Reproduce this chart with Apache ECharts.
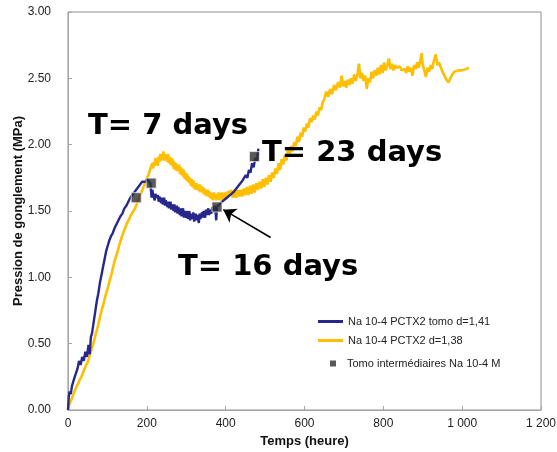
<!DOCTYPE html>
<html>
<head>
<meta charset="utf-8">
<script src="https://cdn.jsdelivr.net/npm/echarts@6/dist/echarts.min.js"></script>
<style>
  html, body { margin: 0; padding: 0; background: #fff; }
  #chart { width: 557px; height: 452px; }
</style>
</head>
<body>
<div id="chart"></div>
<script>
// Swelling pressure vs time, Na 10-4 PCTX2 samples
const yTicks = [0, 0.5, 1.0, 1.5, 2.0, 2.5, 3.0];
const xTicks = [0, 200, 400, 600, 800, 1000, 1200];

// Sample "tomo" d=1,41 (hours, MPa)
const tomoTime = [0,2,4,7,10,13,16,20,24,28,32,36,40,44,48,52,55,58,61,65,69,73,77,81,85,89,93,97,101,105,109,113,118,123,128,133,138,143,148,153,158,163,168,173,178,183,188,193,197,201,205,209,
  212,214,216,220,222,224,228,230,232,236,238,240,244,246,248,252,254,256,260,262,264,268,270,272,276,278,280,284,286,288,292,294,296,300,302,304,308,310,312,316,318,320,324,326,328,332,334,336,340,342,344,348,350,352,356,358,360,364,366,368,372,374,376,378,
  381,383,387,391,395,399,403,407,411,415,419,423,427,431,435,439,443,447,451,455,459,463,467,471,475,479,483];
const tomoPressure = [0.00,0.10,0.14,0.12,0.18,0.17,0.24,0.23,0.31,0.37,0.34,0.40,0.37,0.44,0.40,0.49,0.42,0.55,0.58,0.66,0.74,0.82,0.88,0.96,1.02,1.08,1.14,1.20,1.24,1.28,1.31,1.33,1.37,1.40,1.43,1.46,1.48,1.52,1.54,1.57,1.60,1.62,1.64,1.66,1.67,1.70,1.72,1.73,1.72,1.74,1.73,1.71,
  1.60,1.66,1.62,1.58,1.63,1.60,1.62,1.57,1.61,1.56,1.60,1.55,1.60,1.54,1.58,1.53,1.57,1.52,1.57,1.51,1.55,1.50,1.55,1.49,1.54,1.48,1.53,1.47,1.52,1.46,1.52,1.45,1.50,1.45,1.50,1.44,1.50,1.43,1.48,1.44,1.49,1.42,1.48,1.43,1.47,1.41,1.48,1.44,1.49,1.45,1.50,1.45,1.51,1.47,1.52,1.47,1.51,1.48,1.53,1.49,1.54,1.51,1.43,1.53,
  1.54,1.53,1.56,1.55,1.58,1.57,1.60,1.59,1.62,1.61,1.64,1.63,1.67,1.66,1.70,1.69,1.73,1.72,1.77,1.75,1.81,1.79,1.86,1.83,1.90,1.88,1.97];

// Sample d=1,38 (hours, MPa)
const refTime = [0,3,6,10,14,18,22,26,30,34,38,42,46,50,54,58,62,66,70,74,78,82,86,90,94,98,102,106,110,114,118,122,126,130,134,138,142,146,150,154,158,162,166,170,174,178,182,186,190,194,198,202,206,210,
  214,216,218,220,222,224,226,228,230,232,234,236,238,240,242,244,246,248,250,252,254,256,258,260,262,264,266,268,270,272,274,276,278,280,282,284,286,288,290,292,294,296,298,300,302,304,306,308,310,312,314,316,318,320,322,324,326,328,330,332,334,336,338,340,342,344,346,348,350,352,354,356,358,360,362,364,366,368,370,372,374,376,378,380,382,384,386,388,390,392,394,396,398,400,402,404,406,
  410,414,418,422,426,430,434,438,442,446,450,454,458,462,466,470,474,478,482,486,490,494,498,502,506,510,514,518,522,526,530,534,538,542,546,550,554,558,562,566,570,574,578,582,586,590,594,598,602,606,610,614,618,622,626,630,634,638,642,646,
  650,655,660,665,670,675,680,685,690,694,698,702,706,710,714,718,722,726,730,734,738,742,746,750,754,758,762,766,770,774,778,782,786,790,794,798,802,806,810,814,818,822,826,830,834,838,842,846,850,854,858,862,866,870,874,878,882,886,890,894,897,900,904,908,912,916,920,924,928,933,937,941,946,950,955,960,965,970,975,980,990,1000,1010,1017];
const refPressure = [0.00,0.04,0.06,0.09,0.12,0.15,0.18,0.20,0.23,0.25,0.28,0.31,0.34,0.36,0.40,0.44,0.48,0.52,0.57,0.61,0.66,0.71,0.76,0.80,0.85,0.89,0.93,0.98,1.02,1.07,1.12,1.16,1.20,1.24,1.28,1.32,1.35,1.38,1.41,1.43,1.46,1.48,1.50,1.52,1.55,1.58,1.61,1.64,1.67,1.70,1.73,1.76,1.79,1.83,
  1.86,1.82,1.87,1.84,1.90,1.85,1.88,1.84,1.91,1.87,1.93,1.88,1.92,1.89,1.95,1.88,1.93,1.88,1.92,1.87,1.93,1.86,1.91,1.85,1.90,1.84,1.89,1.82,1.87,1.81,1.86,1.80,1.85,1.80,1.85,1.78,1.83,1.77,1.82,1.76,1.81,1.74,1.79,1.73,1.78,1.72,1.76,1.71,1.75,1.69,1.74,1.68,1.73,1.67,1.71,1.66,1.71,1.66,1.70,1.65,1.70,1.64,1.69,1.64,1.68,1.63,1.67,1.62,1.66,1.61,1.66,1.61,1.65,1.60,1.64,1.59,1.63,1.58,1.64,1.59,1.63,1.58,1.63,1.59,1.64,1.58,1.63,1.59,1.64,1.58,1.63,1.59,1.64,1.59,1.64,1.60,1.65,
  1.62,1.66,1.60,1.65,1.60,1.66,1.61,1.66,1.61,1.67,1.62,1.68,1.62,1.69,1.63,1.70,1.64,1.71,1.66,1.72,1.67,1.74,1.68,1.75,1.70,1.77,1.72,1.79,1.75,1.82,1.78,1.86,1.81,1.89,1.85,1.92,1.88,1.96,1.92,1.99,1.95,2.02,1.99,2.06,2.02,2.09,2.06,2.13,2.10,2.16,2.13,2.20,2.17,2.22,2.19,2.25,2.22,2.28,2.26,2.32,
  2.34,2.40,2.36,2.42,2.38,2.45,2.41,2.47,2.43,2.52,2.44,2.48,2.43,2.49,2.45,2.50,2.46,2.53,2.48,2.52,2.61,2.50,2.54,2.48,2.52,2.42,2.50,2.47,2.55,2.50,2.56,2.52,2.58,2.53,2.60,2.54,2.62,2.56,2.60,2.65,2.57,2.61,2.56,2.60,2.58,2.57,2.59,2.56,2.55,2.57,2.54,2.59,2.55,2.58,2.52,2.60,2.57,2.62,2.58,2.64,2.69,2.60,2.56,2.51,2.58,2.55,2.60,2.57,2.63,2.68,2.60,2.62,2.58,2.55,2.52,2.49,2.47,2.50,2.53,2.55,2.56,2.56,2.57,2.58];

// Intermediate tomography scans
const scanTime = [173, 211, 378, 473];
const scanPressure = [1.60, 1.71, 1.53, 1.91];

// Arrow pointing at the 16-day scan
const arrowFrom = [514, 1.30];
const arrowTo = [394, 1.51];

const seriesNames = [
  'Na 10-4 PCTX2 tomo d=1,41',
  'Na 10-4 PCTX2 d=1,38',
  'Tomo intermédiaires Na 10-4 M'
];

const pair = (xs, ys) => xs.map((x, i) => [x, ys[i]]);

const chart = echarts.init(document.getElementById('chart'), null, { renderer: 'canvas' });

const baseFont = '"Liberation Sans", Arial, sans-serif';
const noteFont = '"DejaVu Sans", sans-serif';
const legendText = { fontFamily: baseFont, fontSize: 11, color: '#222' };

chart.setOption({
  animation: false,
  backgroundColor: '#ffffff',
  grid: {
    left: 68, right: 16, top: 12, bottom: 42,
    outerBoundsMode: 'none', containLabel: false,
    show: true, borderColor: '#8c8c8c', borderWidth: 1
  },
  xAxis: {
    type: 'value',
    min: xTicks[0], max: xTicks[xTicks.length - 1], interval: 200,
    name: 'Temps (heure)',
    nameLocation: 'middle', nameGap: 25, nameMoveOverlap: false,
    nameTextStyle: { fontFamily: baseFont, fontSize: 13, fontWeight: 'bold', color: '#111' },
    axisLine: { lineStyle: { color: '#a6a6a6', width: 1 } },
    axisTick: { inside: true, length: 4, lineStyle: { color: '#a6a6a6' } },
    axisLabel: {
      margin: 8, fontFamily: baseFont, fontSize: 12, color: '#222',
      formatter: v => v >= 1000 ? String(Math.floor(v / 1000)) + ' ' + String(v % 1000).padStart(3, '0') : String(v)
    },
    splitLine: { show: false }
  },
  yAxis: {
    type: 'value',
    min: yTicks[0], max: yTicks[yTicks.length - 1], interval: 0.5,
    name: 'Pression de gonglement (MPa)',
    nameLocation: 'middle', nameGap: 43, nameRotate: 90, nameMoveOverlap: false,
    nameTextStyle: { fontFamily: baseFont, fontSize: 13, fontWeight: 'bold', color: '#111' },
    axisLine: { show: true, lineStyle: { color: '#a6a6a6', width: 1 } },
    axisTick: { show: true, inside: true, length: 4, lineStyle: { color: '#a6a6a6' } },
    axisLabel: {
      margin: 17, fontFamily: baseFont, fontSize: 12, color: '#222',
      formatter: v => v.toFixed(2)
    },
    splitLine: { show: false }
  },
  legend: [
    {
      orient: 'vertical', left: 313, top: 311,
      itemWidth: 25, itemHeight: 3, itemGap: 8, icon: 'rect',
      textStyle: legendText,
      data: [seriesNames[0], seriesNames[1]]
    },
    {
      orient: 'vertical', left: 325, top: 353,
      itemWidth: 6, itemHeight: 6, icon: 'rect',
      itemStyle: { color: '#2f2f2f', borderWidth: 0 },
      textStyle: Object.assign({ padding: [0, 0, 0, 6] }, legendText),
      data: [seriesNames[2]]
    }
  ],
  series: [
    {
      name: seriesNames[1], type: 'line', data: pair(refTime, refPressure),
      showSymbol: false, symbol: 'none', z: 2,
      lineStyle: { color: '#FFBE00', width: 2.6 }, itemStyle: { color: '#FFBE00' }
    },
    {
      name: seriesNames[0], type: 'line', data: pair(tomoTime, tomoPressure),
      showSymbol: false, symbol: 'none', z: 3,
      lineStyle: { color: '#28288C', width: 2.4 }, itemStyle: { color: '#28288C' }
    },
    {
      name: seriesNames[2], type: 'scatter', data: pair(scanTime, scanPressure),
      symbol: 'rect', symbolSize: 10, z: 5,
      itemStyle: { color: '#2f2f2f', borderColor: '#e8e8e8', borderWidth: 1 },
      markLine: {
        silent: true, animation: false,
        symbol: ['none', 'arrow'], symbolSize: 12,
        label: { show: false },
        lineStyle: { color: '#000', width: 1.6, type: 'solid' },
        data: [[{ coord: arrowFrom }, { coord: arrowTo }]]
      }
    }
  ],
  graphic: [
    { type: 'text', left: 88, top: 112, z: 10,
      style: { text: 'T= 7 days', font: 'bold 29px ' + noteFont, fill: '#000' } },
    { type: 'text', left: 262, top: 139, z: 10,
      style: { text: 'T= 23 days', font: 'bold 29px ' + noteFont, fill: '#000' } },
    { type: 'text', left: 178, top: 253, z: 10,
      style: { text: 'T= 16 days', font: 'bold 29px ' + noteFont, fill: '#000' } }
  ]
});
</script>
</body>
</html>
